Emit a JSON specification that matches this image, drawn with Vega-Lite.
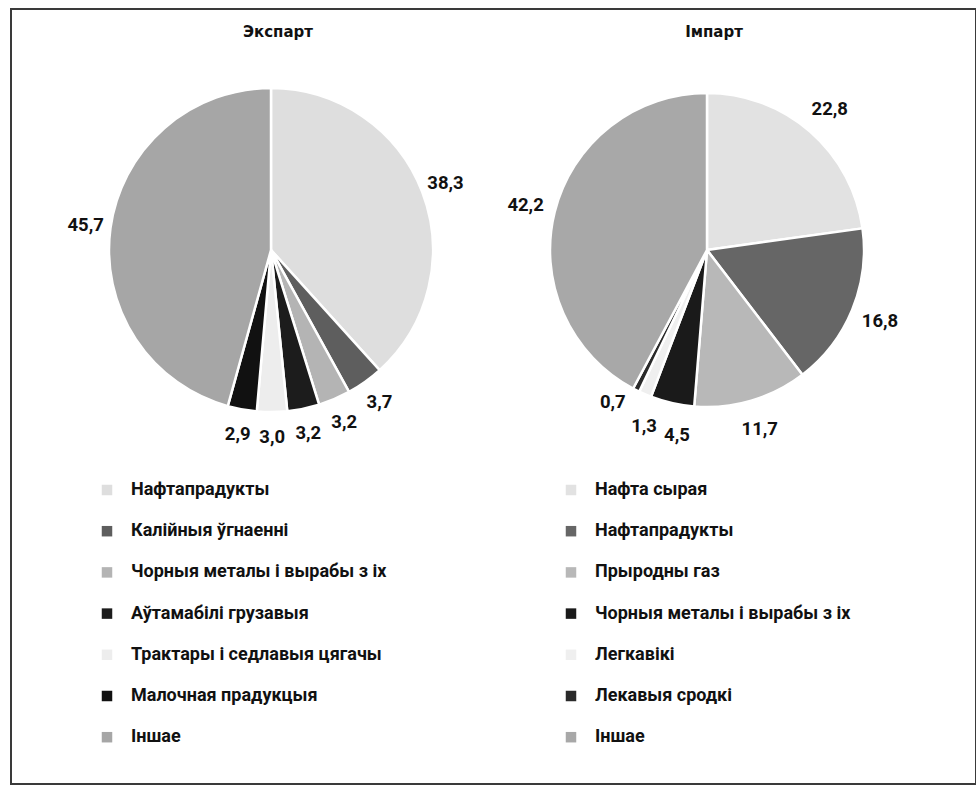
{
  "$schema": "https://vega.github.io/schema/vega-lite/v6.json",
  "width": 965,
  "height": 775,
  "autosize": {"type": "none"},
  "padding": {"left": 11, "top": 9, "right": 0, "bottom": 2},
  "background": "white",
  "config": {
    "view": {"stroke": "#3a3a3a", "strokeWidth": 2},
    "locale": {"number": {"decimal": ",", "thousands": " ", "grouping": [3], "currency": ["", ""]}},
    "legend": {
      "orient": "none",
      "direction": "vertical",
      "symbolType": "square",
      "symbolSize": 110,
      "symbolStrokeWidth": 0,
      "labelFont": "Roboto",
      "labelFontSize": 18,
      "labelFontWeight": "bold",
      "labelColor": "#111111",
      "rowPadding": 23.2,
      "labelOffset": 15,
      "labelLimit": 600
    }
  },
  "data": {
    "values": [
      {"pie": "Экспарт", "idx": 1, "cat": "Нафтапрадукты", "v": 38.3},
      {"pie": "Экспарт", "idx": 2, "cat": "Калійныя ўгнаенні", "v": 3.7},
      {"pie": "Экспарт", "idx": 3, "cat": "Чорныя металы і вырабы з іх", "v": 3.2},
      {"pie": "Экспарт", "idx": 4, "cat": "Аўтамабілі грузавыя", "v": 3.2},
      {"pie": "Экспарт", "idx": 5, "cat": "Трактары і седлавыя цягачы", "v": 3.0},
      {"pie": "Экспарт", "idx": 6, "cat": "Малочная прадукцыя", "v": 2.9},
      {"pie": "Экспарт", "idx": 7, "cat": "Іншае", "v": 45.7},
      {"pie": "Імпарт", "idx": 1, "cat": "Нафта сырая", "v": 22.8},
      {"pie": "Імпарт", "idx": 2, "cat": "Нафтапрадукты", "v": 16.8},
      {"pie": "Імпарт", "idx": 3, "cat": "Прыродны газ", "v": 11.7},
      {"pie": "Імпарт", "idx": 4, "cat": "Чорныя металы і вырабы з іх", "v": 4.5},
      {"pie": "Імпарт", "idx": 5, "cat": "Легкавікі", "v": 1.3},
      {"pie": "Імпарт", "idx": 6, "cat": "Лекавыя сродкі", "v": 0.7},
      {"pie": "Імпарт", "idx": 7, "cat": "Іншае", "v": 42.2}
    ]
  },
  "layer": [
    {
      "transform": [{"filter": "datum.pie === 'Экспарт'"}],
      "mark": {"type": "arc", "outerRadius": 162, "stroke": "white", "strokeWidth": 2.5},
      "encoding": {
        "x": {"field": "pie", "type": "nominal", "scale": {"type": "point", "padding": 0, "domain": ["Экспарт", "Імпарт"], "range": [260, 696]}, "axis": null},
        "y": {"value": 241},
        "theta": {"field": "v", "type": "quantitative", "stack": true},
        "order": {"field": "idx", "type": "quantitative"},
        "color": {
          "field": "cat",
          "type": "nominal",
          "scale": {
            "domain": ["Нафтапрадукты", "Калійныя ўгнаенні", "Чорныя металы і вырабы з іх", "Аўтамабілі грузавыя", "Трактары і седлавыя цягачы", "Малочная прадукцыя", "Іншае"],
            "range": ["#dedede", "#5e5e5e", "#b4b4b4", "#1c1c1c", "#ededed", "#111111", "#a6a6a6"]
          },
          "legend": {"title": null, "legendX": 87, "legendY": 472}
        }
      }
    },
    {
      "transform": [{"filter": "datum.pie === 'Імпарт'"}],
      "mark": {"type": "arc", "outerRadius": 157, "stroke": "white", "strokeWidth": 2.5},
      "encoding": {
        "x": {"field": "pie", "type": "nominal", "scale": {"type": "point", "padding": 0, "domain": ["Экспарт", "Імпарт"], "range": [260, 696]}, "axis": null},
        "y": {"value": 241},
        "theta": {"field": "v", "type": "quantitative", "stack": true},
        "order": {"field": "idx", "type": "quantitative"},
        "color": {
          "field": "cat",
          "type": "nominal",
          "scale": {
            "domain": ["Нафта сырая", "Нафтапрадукты", "Прыродны газ", "Чорныя металы і вырабы з іх", "Легкавікі", "Лекавыя сродкі", "Іншае"],
            "range": ["#e2e2e2", "#666666", "#b8b8b8", "#1a1a1a", "#efefef", "#2a2a2a", "#a8a8a8"]
          },
          "legend": {"title": null, "legendX": 551, "legendY": 472}
        }
      }
    },
    {
      "transform": [{"filter": "datum.pie === 'Экспарт'"}],
      "mark": {"type": "text", "radius": 187, "font": "Roboto", "fontSize": 18.5, "fontWeight": "bold", "color": "#111111"},
      "encoding": {
        "x": {"field": "pie", "type": "nominal", "scale": {"type": "point", "padding": 0, "domain": ["Экспарт", "Імпарт"], "range": [260, 696]}, "axis": null},
        "y": {"value": 241},
        "theta": {"field": "v", "type": "quantitative", "stack": true},
        "order": {"field": "idx", "type": "quantitative"},
        "detail": {"field": "cat", "type": "nominal"},
        "text": {"field": "v", "type": "quantitative", "format": ".1f"}
      }
    },
    {
      "transform": [{"filter": "datum.pie === 'Імпарт'"}],
      "mark": {"type": "text", "radius": 187, "font": "Roboto", "fontSize": 18.5, "fontWeight": "bold", "color": "#111111"},
      "encoding": {
        "x": {"field": "pie", "type": "nominal", "scale": {"type": "point", "padding": 0, "domain": ["Экспарт", "Імпарт"], "range": [260, 696]}, "axis": null},
        "y": {"value": 241},
        "theta": {"field": "v", "type": "quantitative", "stack": true},
        "order": {"field": "idx", "type": "quantitative"},
        "detail": {"field": "cat", "type": "nominal"},
        "text": {"condition": {"test": "datum.idx >= 4 && datum.idx <= 6", "value": ""}, "field": "v", "type": "quantitative", "format": ".1f"}
      }
    },
    {
      "transform": [{"filter": "datum.pie === 'Імпарт'"}],
      "mark": {"type": "text", "radius": 187, "thetaOffset": -0.062, "font": "Roboto", "fontSize": 18.5, "fontWeight": "bold", "color": "#111111"},
      "encoding": {
        "x": {"field": "pie", "type": "nominal", "scale": {"type": "point", "padding": 0, "domain": ["Экспарт", "Імпарт"], "range": [260, 696]}, "axis": null},
        "y": {"value": 241},
        "theta": {"field": "v", "type": "quantitative", "stack": true},
        "order": {"field": "idx", "type": "quantitative"},
        "detail": {"field": "cat", "type": "nominal"},
        "text": {"condition": {"test": "datum.idx !== 4 && datum.idx !== 5", "value": ""}, "field": "v", "type": "quantitative", "format": ".1f"}
      }
    },
    {
      "transform": [{"filter": "datum.pie === 'Імпарт'"}],
      "mark": {"type": "text", "radius": 179, "thetaOffset": 0.086, "font": "Roboto", "fontSize": 18.5, "fontWeight": "bold", "color": "#111111"},
      "encoding": {
        "x": {"field": "pie", "type": "nominal", "scale": {"type": "point", "padding": 0, "domain": ["Экспарт", "Імпарт"], "range": [260, 696]}, "axis": null},
        "y": {"value": 241},
        "theta": {"field": "v", "type": "quantitative", "stack": true},
        "order": {"field": "idx", "type": "quantitative"},
        "detail": {"field": "cat", "type": "nominal"},
        "text": {"condition": {"test": "datum.idx !== 6", "value": ""}, "field": "v", "type": "quantitative", "format": ".1f"}
      }
    },
    {
      "data": {"values": [{"pie": "Экспарт"}, {"pie": "Імпарт"}]},
      "mark": {"type": "text", "font": "DejaVu Sans", "fontSize": 15, "fontWeight": "bold", "color": "#111111", "dx": 7},
      "encoding": {
        "x": {"field": "pie", "type": "nominal", "scale": {"type": "point", "padding": 0, "domain": ["Экспарт", "Імпарт"], "range": [260, 696]}, "axis": null},
        "y": {"value": 23},
        "text": {"field": "pie", "type": "nominal"}
      }
    }
  ],
  "resolve": {"scale": {"color": "independent"}}
}
